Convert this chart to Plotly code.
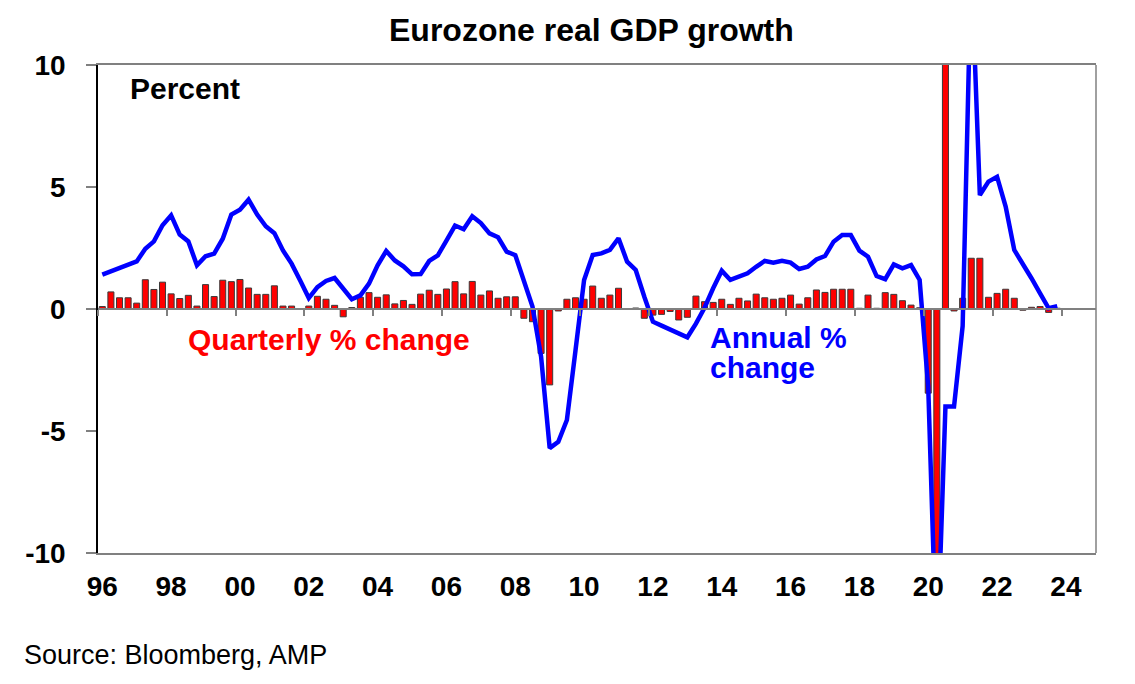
import plotly.graph_objects as go

start_year = 1996

quarterly_change = [
    0.1, 0.7, 0.46, 0.46, 0.24, 1.2, 0.8, 1.1, 0.62, 0.43,
    0.56, 0.12, 1.0, 0.51, 1.18, 1.12, 1.21, 0.86, 0.6, 0.6,
    0.95, 0.12, 0.12, 0.01, 0.12, 0.52, 0.4, 0.15, -0.32, 0.06,
    0.48, 0.67, 0.48, 0.58, 0.21, 0.35, 0.19, 0.61, 0.77, 0.6,
    0.82, 1.12, 0.62, 1.13, 0.57, 0.74, 0.44, 0.5, 0.5, -0.38,
    -0.52, -1.82, -3.11, -0.08, 0.4, 0.46, 0.4, 0.94, 0.44, 0.57,
    0.85, 0.02, 0.04, -0.38, -0.25, -0.22, -0.1, -0.45, -0.34, 0.53,
    0.3, 0.27, 0.4, 0.19, 0.44, 0.33, 0.61, 0.46, 0.4, 0.44,
    0.57, 0.2, 0.46, 0.78, 0.68, 0.81, 0.81, 0.81, 0.03, 0.57,
    0.03, 0.67, 0.6, 0.34, 0.16, 0.05, -3.45, -11.6, 12.6, -0.08,
    0.44, 2.08, 2.08, 0.48, 0.64, 0.81, 0.44, -0.05, 0.07, 0.1,
    -0.14, 0.03,
]

annual_change = [
    1.41, 1.55, 1.7, 1.82, 1.95, 2.47, 2.77, 3.43, 3.84, 3.05,
    2.77, 1.79, 2.16, 2.27, 2.88, 3.87, 4.07, 4.48, 3.87, 3.39,
    3.11, 2.4, 1.86, 1.17, 0.45, 0.9, 1.15, 1.27, 0.83, 0.4,
    0.56, 1.04, 1.79, 2.38, 1.99, 1.75, 1.42, 1.43, 1.97, 2.2,
    2.8, 3.42, 3.27, 3.8, 3.52, 3.1, 2.94, 2.35, 2.21, 1.15,
    0.1, -1.95, -5.7, -5.44, -4.55, -1.7, 1.19, 2.21, 2.28, 2.42,
    2.9, 1.94, 1.6, 0.5, -0.52, -0.68, -0.84, -1.0, -1.16, -0.6,
    0.05, 0.85, 1.57, 1.19, 1.35, 1.46, 1.73, 1.97, 1.9, 1.98,
    1.9, 1.64, 1.73, 2.03, 2.17, 2.76, 3.03, 3.03, 2.39, 2.14,
    1.35, 1.22, 1.83, 1.67, 1.8, 1.19, -3.2, -14.5, -4.0, -4.0,
    -0.7, 14.2, 4.67, 5.22, 5.42, 4.2, 2.42, 1.87, 1.26, 0.64,
    0.03, 0.12,
]

tick_text = ["96", "98", "00", "02", "04", "06", "08", "10",
             "12", "14", "16", "18", "20", "22", "24"]
y_ticks = [-10, -5, 0, 5, 10]

# quarter centres in decimal years
x_q = [start_year + i / 4 + 0.125 for i in range(len(quarterly_change))]
label_pos = [start_year + 2 * i + 0.125 for i in range(len(tick_text))]
boundary_pos = [start_year + 2 * i for i in range(len(tick_text))]
x_range = [start_year, start_year + 29]

FONT = "Liberation Sans, Arial, sans-serif"

fig = go.Figure()
fig.add_trace(go.Bar(
    x=x_q, y=quarterly_change, width=0.175,
    marker=dict(color="#FF0000", line=dict(color="#3a3a3a", width=1)),
    xaxis="x", yaxis="y", showlegend=False,
))
fig.add_trace(go.Scatter(
    x=x_q, y=annual_change, mode="lines",
    line=dict(color="#0000FF", width=4.5),
    xaxis="x2", yaxis="y", showlegend=False,
))

fig.update_layout(
    width=1135, height=684,
    margin=dict(l=90, r=47, t=57, b=139, autoexpand=False),
    paper_bgcolor="white", plot_bgcolor="white",
    font=dict(family=FONT, color="black"),
    xaxis=dict(
        range=x_range, showgrid=False, zeroline=False, automargin=False,
        showline=True, linecolor="#808080", linewidth=1.5, mirror=True,
        tickmode="array", tickvals=label_pos, ticktext=tick_text,
        ticks="", ticklabelstandoff=8,
        tickfont=dict(family=FONT, size=28, color="black", weight="bold"),
    ),
    xaxis2=dict(
        range=x_range, overlaying="x", anchor="free", position=0.5,
        showgrid=False, zeroline=False, automargin=False,
        showline=True, linecolor="#808080", linewidth=1.5,
        tickmode="array", tickvals=boundary_pos, ticks="outside",
        ticklen=6, tickcolor="#808080", tickwidth=1.5,
        showticklabels=False,
    ),
    yaxis=dict(
        range=[-10, 10], showgrid=False, zeroline=False, automargin=False,
        showline=True, linecolor="black", linewidth=1.5,
        tickmode="array", tickvals=y_ticks, ticktext=[str(v) for v in y_ticks],
        ticks="outside", ticklen=10, tickcolor="#808080", tickwidth=1.5,
        ticklabelstandoff=15,
        tickfont=dict(family=FONT, size=28, color="black", weight="bold"),
    ),
    shapes=[dict(type="line", xref="paper", yref="paper", x0=1, x1=1, y0=0, y1=1,
                 line=dict(color="#808080", width=1.5))],
    annotations=[
        dict(text="<b>Eurozone real GDP growth</b>", xref="paper", yref="paper",
             x=0.494, y=1.0717, xanchor="center", yanchor="middle", showarrow=False,
             font=dict(family=FONT, size=32, color="black")),
        dict(text="<b>Percent</b>", xref="paper", yref="paper",
             x=0.030, y=0.951, xanchor="left", yanchor="middle", showarrow=False,
             font=dict(family=FONT, size=30, color="black")),
        dict(text="<b>Quarterly % change</b>", xref="paper", yref="paper",
             x=0.0882, y=0.4365, xanchor="left", yanchor="middle", showarrow=False,
             font=dict(family=FONT, size=30, color="#FF0000")),
        dict(text="<b>Annual %</b>", xref="paper", yref="paper",
             x=0.611, y=0.4406, xanchor="left", yanchor="middle", showarrow=False,
             font=dict(family=FONT, size=30, color="#0000FF")),
        dict(text="<b>change</b>", xref="paper", yref="paper",
             x=0.611, y=0.381, xanchor="left", yanchor="middle", showarrow=False,
             font=dict(family=FONT, size=30, color="#0000FF")),
        dict(text="Source: Bloomberg, AMP", xref="paper", yref="paper",
             x=-0.0762, y=-0.209, xanchor="left", yanchor="middle", showarrow=False,
             font=dict(family=FONT, size=27, color="black")),
    ],
)

fig.write_html("out.html")
